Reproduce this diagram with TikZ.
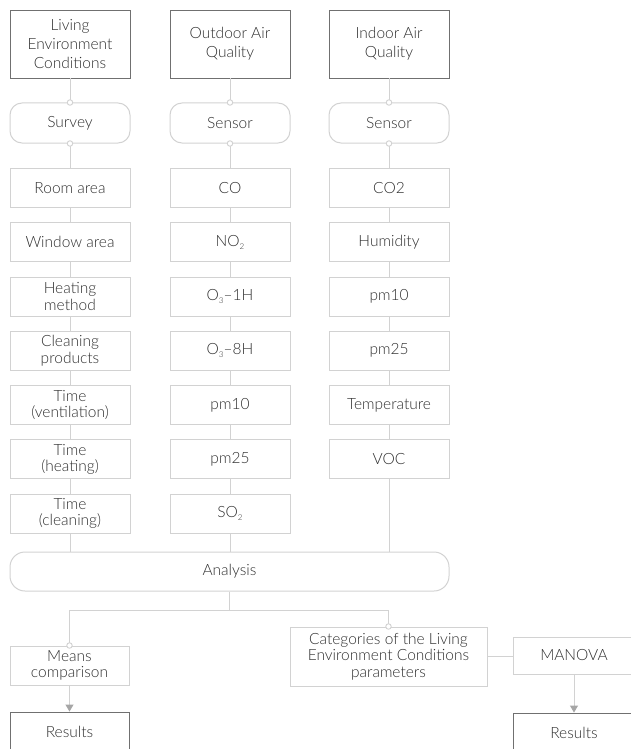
\documentclass[tikz,border=0pt]{standalone}
\usepackage{fontspec}
\setmainfont{Lato}[UprightFont=* Light]
\usetikzlibrary{arrows.meta}
\definecolor{linegray}{HTML}{D2D2D2}
\definecolor{darkborder}{HTML}{707070}
\definecolor{txt}{HTML}{2E2E2E}
\definecolor{tipgray}{HTML}{A6A6A6}
\tikzset{
  every node/.style={font=\fontsize{15.5}{16.5}\selectfont, text=txt, align=center},
  headbox/.style={draw=darkborder, line width=0.9pt, minimum width=120pt, minimum height=68pt, inner sep=2pt, font=\fontsize{15.5}{19}\selectfont},
  rbox/.style={draw=linegray, line width=1pt, rounded corners=12pt, minimum width=120pt, minimum height=40pt},
  itembox/.style={draw=linegray, line width=1pt, minimum width=120pt, minimum height=39pt, inner sep=1pt},
  resbox/.style={draw=darkborder, line width=0.9pt, minimum width=120pt, minimum height=40pt},
  conn/.style={draw=linegray, line width=1pt},
  arr/.style={draw=linegray, line width=1pt, -{Triangle[width=8pt,length=7pt,color=tipgray]}},
  dot/.style={circle, draw=linegray, fill=white, line width=0.9pt, inner sep=0pt, minimum size=5.5pt}
}
\begin{document}
\begin{tikzpicture}[x=1pt,y=-1pt]
\useasboundingbox (0,0) rectangle (630,749);
% head boxes
\node[headbox] (h1) at (70,44) {Living\\Environment\\Conditions};
\node[headbox] (h2) at (230,44) {Outdoor Air\\Quality};
\node[headbox] (h3) at (389,44) {Indoor Air\\Quality};
% method boxes
\node[rbox] (m1) at (70,123) {Survey};
\node[rbox] (m2) at (230,123) {Sensor};
\node[rbox] (m3) at (389,123) {Sensor};
% column 1
\node[itembox] (a1) at (70,188) {Room area};
\node[itembox] (a2) at (70,242.25) {Window area};
\node[itembox] (a3) at (70,296.5) {Heating\\method};
\node[itembox] (a4) at (70,350.75) {Cleaning\\products};
\node[itembox] (a5) at (70,405) {Time\\(ventilation)};
\node[itembox] (a6) at (70,459.25) {Time\\(heating)};
\node[itembox] (a7) at (70,513.5) {Time\\(cleaning)};
% column 2
\node[itembox] (b1) at (230,188) {CO};
\node[itembox] (b2) at (230,242.25) {NO\raisebox{-0.35ex}{\fontsize{8}{8}\selectfont 2}};
\node[itembox] (b3) at (230,296.5) {O\raisebox{-0.35ex}{\fontsize{8}{8}\selectfont 3}–1H};
\node[itembox] (b4) at (230,350.75) {O\raisebox{-0.35ex}{\fontsize{8}{8}\selectfont 3}–8H};
\node[itembox] (b5) at (230,405) {pm10};
\node[itembox] (b6) at (230,459.25) {pm25};
\node[itembox] (b7) at (230,513.5) {SO\raisebox{-0.35ex}{\fontsize{8}{8}\selectfont 2}};
% column 3
\node[itembox] (c1) at (389,188) {CO2};
\node[itembox] (c2) at (389,242.25) {Humidity};
\node[itembox] (c3) at (389,296.5) {pm10};
\node[itembox] (c4) at (389,350.75) {pm25};
\node[itembox] (c5) at (389,405) {Temperature};
\node[itembox] (c6) at (389,459.25) {VOC};
% analysis
\node[draw=linegray, line width=1pt, rounded corners=15pt, minimum width=439pt, minimum height=39pt] (an) at (229.5,571.5) {Analysis};
% bottom
\node[itembox, minimum width=119pt] (mc) at (69.5,665.5) {Means\\comparison};
\node[itembox, minimum width=197pt, minimum height=59pt] (cat) at (388.5,656.5) {Categories of the Living\\Environment Conditions\\parameters};
\node[itembox, minimum width=122pt, minimum height=37pt] (man) at (574,655.5) {MANOVA};
\node[resbox, minimum width=119pt] (r1) at (69.5,732) {Results};
\node[resbox, minimum width=122pt] (r2) at (574,733) {Results};
\coordinate (br) at (229.5,610);
% connectors
\foreach \i in {1,2,3}{
  \draw[conn] (h\i.south) -- (m\i.north);
}
\draw[conn] (m1.south) -- (a1.north);
\draw[conn] (m2.south) -- (b1.north);
\draw[conn] (m3.south) -- (c1.north);
\foreach \i/\j in {1/2,2/3,3/4,4/5,5/6,6/7}{
  \draw[conn] (a\i.south) -- (a\j.north);
  \draw[conn] (b\i.south) -- (b\j.north);
}
\foreach \i/\j in {1/2,2/3,3/4,4/5,5/6}{
  \draw[conn] (c\i.south) -- (c\j.north);
}
\draw[conn] (a7.south) -- (a7.south |- an.north);
\draw[conn] (b7.south) -- (b7.south |- an.north);
\draw[conn] (c6.south) -- (c6.south |- an.north);
\draw[conn] (an.south) -- (br);
\draw[conn] (br) -| (mc.north);
\draw[conn] (br) -| (cat.north);
\draw[conn] (cat.east) -- (cat.east -| man.west);
\draw[arr] (mc.south) -- (r1.north);
\draw[arr] (man.south) -- (r2.north);
% dots
\foreach \n in {m1,m2,m3}{
  \node[dot] at (\n.north) {};
  \node[dot] at (\n.south) {};
}
\node[dot] at (mc.north) {};
\node[dot] at (cat.north) {};
\end{tikzpicture}
\end{document}
